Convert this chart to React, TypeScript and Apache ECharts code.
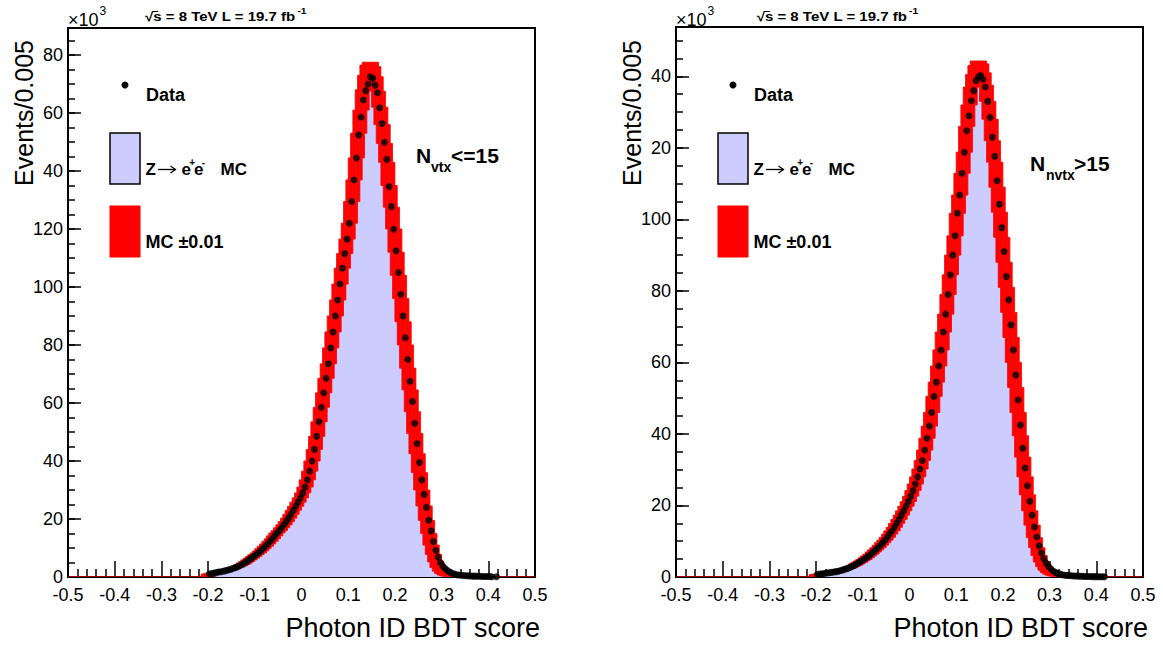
import React, { useEffect, useRef } from 'react';
import * as echarts from 'echarts';

const FONT = '"Liberation Sans", Arial, Helvetica, sans-serif';

// Histogram binning of the BDT score
const BIN_WIDTH = 0.005;
const X_MIN = -0.5;
const X_MAX = 0.5;
const N_BINS = 200;
const FILLED_FROM = -0.2; // low edge of the first listed bin
const BAND_HALF_BINS = 3; // half width of the MC shift envelope, in bins

// Events per bin (x10^3), bins of 0.005 starting at -0.2 — N_vtx <= 15
const LOW_NVTX_DATA = [
  1.0, 1.2, 1.4, 1.5, 1.7, 1.8, 2.0, 2.2, 2.4, 2.6,
  2.9, 3.2, 3.5, 3.9, 4.3, 4.8, 5.3, 5.9, 6.5, 7.1,
  7.7, 8.3, 9.0, 9.8, 10.6, 11.4, 12.3, 13.2, 14.2, 15.2,
  16.0, 17.0, 18.0, 19.1, 20.3, 21.6, 23.0, 24.4, 25.8, 27.3,
  29.0, 31.0, 33.5, 36.5, 40.0, 44.0, 48.5, 53.5, 58.5, 63.5,
  68.5, 73.5, 79.0, 84.5, 90.0, 95.5, 101.0, 106.5, 111.5, 116.5,
  122.0, 129.5, 136.9, 144.5, 152.4, 158.5, 164.5, 167.7, 170.0, 172.5,
  172.0, 169.6, 167.0, 161.8, 156.4, 149.9, 144.0, 134.6, 127.7, 119.9,
  112.5, 105.0, 97.5, 90.0, 82.5, 75.0, 67.5, 60.5, 53.0, 46.0,
  39.5, 33.5, 28.5, 24.0, 19.6, 15.9, 12.2, 9.2, 6.9, 5.0,
  3.8, 2.9, 2.2, 1.7, 1.3, 1.0, 0.8, 0.7, 0.6, 0.5,
  0.45, 0.4, 0.35, 0.3, 0.3, 0.25, 0.25, 0.2, 0.2, 0.15,
  0.15, 0.1, null, 0.1, null,
];

const LOW_NVTX_MC = [
  1.0, 1.2, 1.4, 1.5, 1.7, 1.8, 2.0, 2.2, 2.4, 2.6,
  2.9, 3.2, 3.5, 3.9, 4.3, 4.8, 5.3, 5.9, 6.5, 7.1,
  7.7, 8.3, 9.0, 9.8, 10.6, 11.4, 12.3, 13.2, 14.2, 15.2,
  16.0, 17.0, 18.0, 19.1, 20.3, 21.6, 23.0, 24.4, 25.8, 27.3,
  29.0, 31.0, 33.5, 36.5, 40.0, 44.0, 48.5, 53.5, 58.5, 63.5,
  68.5, 73.5, 79.0, 84.5, 90.0, 95.5, 101.0, 106.5, 111.5, 116.5,
  122.0, 129.5, 136.9, 144.5, 153.0, 161.0, 168.0, 173.0, 176.5, 177.5,
  176.0, 172.5, 167.5, 162.0, 156.0, 149.5, 143.0, 135.0, 127.5, 120.0,
  112.0, 104.0, 96.0, 88.0, 80.0, 72.0, 64.5, 57.0, 49.5, 42.5,
  36.0, 30.0, 24.5, 19.5, 15.0, 11.0, 7.8, 5.2, 3.3, 2.0,
  1.2, 0.7, 0.4, 0.25, 0.15, 0.1, 0.05, 0, 0, 0,
  0, 0, 0, 0, 0, 0, 0, 0, 0, 0,
  0, 0, 0, 0, 0,
];

// Events per bin (x10^3) — N_nvtx > 15
const HIGH_NVTX_DATA = [
  0.7, 0.8, 0.9, 1.0, 1.1, 1.2, 1.3, 1.4, 1.5, 1.6,
  1.8, 2.0, 2.2, 2.4, 2.7, 3.0, 3.3, 3.7, 4.1, 4.5,
  4.9, 5.4, 5.9, 6.4, 7.0, 7.6, 8.2, 8.9, 9.6, 10.3,
  11.1, 12.0, 12.9, 13.9, 15.0, 16.1, 17.3, 18.5, 19.8, 21.1,
  22.6, 24.2, 26.0, 28.0, 30.2, 32.6, 35.5, 38.8, 42.2, 46.0,
  50.5, 54.5, 59.0, 63.5, 68.5, 73.5, 79.0, 84.5, 90.0, 95.4,
  101.7, 106.8, 112.9, 118.8, 124.8, 129.0, 133.2, 136.0, 138.8, 139.8,
  140.2, 139.2, 137.0, 133.0, 128.5, 123.0, 117.6, 110.8, 104.2, 97.7,
  91.0, 84.0, 77.5, 70.5, 63.5, 56.5, 49.5, 42.5, 36.0, 30.5,
  25.5, 21.2, 17.3, 14.0, 11.2, 8.7, 6.7, 5.1, 3.9, 3.0,
  2.3, 1.7, 1.3, 1.0, 0.8, 0.65, 0.5, 0.45, 0.4, 0.35,
  0.3, 0.27, 0.24, 0.2, 0.18, 0.16, 0.14, 0.12, 0.1, 0.1,
  0.08, 0.06, 0.05, 0.05, null,
];

const HIGH_NVTX_MC = [
  0.7, 0.8, 0.9, 1.0, 1.1, 1.2, 1.3, 1.4, 1.5, 1.6,
  1.8, 2.0, 2.2, 2.4, 2.7, 3.0, 3.3, 3.7, 4.1, 4.5,
  4.9, 5.4, 5.9, 6.4, 7.0, 7.6, 8.2, 8.9, 9.6, 10.3,
  11.1, 12.0, 12.9, 13.9, 15.0, 16.1, 17.3, 18.5, 19.8, 21.1,
  22.6, 24.2, 26.0, 28.0, 30.2, 32.6, 35.5, 38.8, 42.2, 46.0,
  50.5, 54.5, 59.0, 63.5, 68.5, 73.5, 79.0, 84.5, 90.0, 95.4,
  101.7, 106.8, 112.9, 118.8, 126.0, 132.0, 137.0, 140.5, 143.0, 144.3,
  143.5, 141.0, 137.5, 133.0, 128.0, 122.0, 116.0, 109.0, 102.0, 95.0,
  88.0, 81.0, 74.0, 67.0, 60.0, 53.0, 46.0, 39.5, 33.5, 28.0,
  23.0, 18.5, 14.5, 11.0, 8.2, 6.0, 4.2, 2.9, 1.9, 1.2,
  0.8, 0.5, 0.3, 0.2, 0.1, 0.05, 0, 0, 0, 0,
  0, 0, 0, 0, 0, 0, 0, 0, 0, 0,
  0, 0, 0, 0, 0,
];

// Vertical axis: tick values every 20 and the texts written at them
const LOW_Y_MAX = 189.3;
const LOW_Y_LABELS = ['0', '20', '40', '60', '80', '100', '120', '40', '60', '80'];
const HIGH_Y_MAX = 153.8;
const HIGH_Y_LABELS = ['0', '20', '40', '60', '80', '100', '20', '40'];

const GRIDS = [
  { left: 68, top: 28, width: 467, height: 549 },
  { left: 676, top: 27, width: 467, height: 550 },
];

function fullHistogram(values: (number | null)[]): number[] {
  const out = new Array(N_BINS).fill(0);
  const offset = Math.round((FILLED_FROM - X_MIN) / BIN_WIDTH);
  values.forEach((v, k) => {
    if (v != null) out[offset + k] = v;
  });
  return out;
}

function panelSeries(panel: number, data: (number | null)[], mc: number[]) {
  const mcFull = fullHistogram(mc);
  const step: number[][] = [];
  const band: number[][] = [];
  for (let i = 0; i < N_BINS; i++) {
    const lo = X_MIN + i * BIN_WIDTH;
    const hi = lo + BIN_WIDTH;
    step.push([lo, mcFull[i]], [hi, mcFull[i]]);
    let mn = Infinity;
    let mx = -Infinity;
    for (let j = i - BAND_HALF_BINS; j <= i + BAND_HALF_BINS; j++) {
      const v = j >= 0 && j < N_BINS ? mcFull[j] : 0;
      mn = Math.min(mn, v);
      mx = Math.max(mx, v);
    }
    band.push([lo, hi, mn, mx]);
  }
  const points = data
    .map((v, k) => (v == null ? null : [FILLED_FROM + (k + 0.5) * BIN_WIDTH, v]))
    .filter((p) => p !== null);

  return [
    {
      type: 'line',
      xAxisIndex: panel,
      yAxisIndex: panel,
      data: step,
      symbol: 'none',
      silent: true,
      lineStyle: { width: 0, color: '#ccccff' },
      areaStyle: { color: '#ccccff', opacity: 1 },
      z: 1,
    },
    {
      type: 'custom',
      xAxisIndex: panel,
      yAxisIndex: panel,
      data: band,
      encode: { x: [0, 1], y: [2, 3] },
      silent: true,
      clip: true,
      z: 2,
      renderItem: (_params: any, api: any) => {
        const a = api.coord([api.value(0), api.value(3)]);
        const b = api.coord([api.value(1), api.value(2)]);
        return {
          type: 'rect',
          shape: { x: a[0], y: a[1], width: b[0] - a[0], height: Math.max(b[1] - a[1], 0) },
          style: { fill: '#ff0000', stroke: '#ff0000', lineWidth: 0.8 },
        };
      },
    },
    {
      type: 'scatter',
      xAxisIndex: panel,
      yAxisIndex: panel,
      data: points,
      symbol: 'circle',
      symbolSize: 7,
      itemStyle: { color: '#000' },
      silent: true,
      z: 3,
    },
  ];
}

function xAxisFor(gridIndex: number, visible: boolean) {
  return {
    type: 'value',
    gridIndex,
    show: visible,
    min: X_MIN,
    max: X_MAX,
    interval: 0.1,
    axisLine: { show: true, onZero: false, lineStyle: { color: '#000', width: 2 } },
    axisTick: { show: true, inside: true, length: 16, lineStyle: { color: '#000', width: 1.5 } },
    minorTick: { show: true, splitNumber: 5, length: 8, lineStyle: { color: '#000', width: 1.5 } },
    axisLabel: { color: '#000', fontSize: 18, fontFamily: FONT, margin: 9 },
    splitLine: { show: false },
    minorSplitLine: { show: false },
  };
}

function yAxisMain(gridIndex: number, max: number, labels: string[]) {
  return {
    type: 'value',
    gridIndex,
    position: 'left',
    min: 0,
    max,
    interval: 20,
    axisLine: { show: true, onZero: false, lineStyle: { color: '#000', width: 2 } },
    axisTick: { show: true, inside: true, length: 13, lineStyle: { color: '#000', width: 1.5 } },
    axisLabel: {
      color: '#000',
      fontSize: 18,
      fontFamily: FONT,
      margin: 5,
      formatter: (v: number) => {
        const k = Math.round(v / 20);
        return Math.abs(v - k * 20) < 1e-6 ? labels[k] ?? '' : '';
      },
    },
    splitLine: { show: false },
  };
}

function yAxisMinor(gridIndex: number, max: number) {
  return {
    type: 'value',
    gridIndex,
    position: 'left',
    min: 0,
    max,
    interval: 5,
    axisLine: { show: false, onZero: false },
    axisTick: { show: true, inside: true, length: 7, lineStyle: { color: '#000', width: 1.5 } },
    axisLabel: { show: false },
    splitLine: { show: false },
  };
}

function text(x: number, y: number, str: string, font: string, align = 'left') {
  return {
    type: 'text',
    x,
    y,
    silent: true,
    style: { text: str, font, fill: '#000', textAlign: align, textVerticalAlign: 'middle' },
  };
}

function panelDecor(dx: number, topDx: number, nLabel: { main: string; sub: string; rest: string; x: number; y: number; subX: number; restX: number }) {
  const b = (s: number) => `bold ${s}px ${FONT}`;
  const r = (s: number) => `${s}px ${FONT}`;
  return [
    // y-axis multiplier
    text(68 + dx, 20, '×10', r(18)),
    text(99.5 + dx, 11, '3', r(12)),
    // energy and luminosity line
    {
      type: 'group',
      x: 145 + topDx,
      y: 0,
      scaleX: 1.2,
      children: [
        text(0, 17, '√s = 8 TeV L = 19.7 fb', b(12.5)),
        text(127, 11, '-1', b(8.5)),
        { type: 'line', silent: true, shape: { x1: 6, y1: 11.5, x2: 11, y2: 11.5 }, style: { stroke: '#000', lineWidth: 1 } },
      ],
    },
    // legend
    { type: 'circle', silent: true, shape: { cx: 125 + dx, cy: 85, r: 3.5 }, style: { fill: '#000' } },
    text(146 + dx, 95, 'Data', b(18)),
    { type: 'rect', silent: true, shape: { x: 110 + dx, y: 133, width: 30, height: 51 }, style: { fill: '#ccccff', stroke: '#000', lineWidth: 1.5 } },
    text(145.5 + dx, 169.5, 'Z', b(17)),
    { type: 'line', silent: true, shape: { x1: 158 + dx, y1: 169.5, x2: 175 + dx, y2: 169.5 }, style: { stroke: '#000', lineWidth: 1.3 } },
    {
      type: 'polyline',
      silent: true,
      shape: { points: [[170.5 + dx, 166], [175.5 + dx, 169.5], [170.5 + dx, 173]] },
      style: { stroke: '#000', lineWidth: 1.3, fill: 'none' },
    },
    text(181.5 + dx, 169.5, 'e', b(17)),
    text(189.3 + dx, 162, '+', b(10)),
    text(194 + dx, 169.5, 'e', b(17)),
    text(201.7 + dx, 162, '-', b(10)),
    text(220.5 + dx, 169.5, 'MC', b(17)),
    { type: 'rect', silent: true, shape: { x: 109.5 + dx, y: 205.5, width: 31, height: 52 }, style: { fill: '#ff0000' } },
    text(145.5 + dx, 241.7, 'MC ±0.01', b(18)),
    // pile-up category
    text(nLabel.x, nLabel.y, nLabel.main, b(21)),
    text(nLabel.subX, nLabel.y + 12, nLabel.sub, b(14)),
    text(nLabel.restX, nLabel.y, nLabel.rest, b(21)),
    // axis titles
    {
      type: 'text',
      x: 24 + dx,
      y: 40,
      rotation: Math.PI / 2,
      silent: true,
      style: { text: 'Events/0.005', font: r(25), fill: '#000', textAlign: 'right', textVerticalAlign: 'middle' },
    },
    text(540 + dx, 628, 'Photon ID BDT score', r(27), 'right'),
  ];
}

export default function App() {
  const ref = useRef<HTMLDivElement>(null);

  useEffect(() => {
    if (!ref.current) return;
    const chart = echarts.init(ref.current, undefined, { renderer: 'svg' });

    const gridStyle = { show: true, borderColor: '#000', borderWidth: 2, backgroundColor: 'transparent' };

    chart.setOption({
      animation: false,
      backgroundColor: '#fff',
      grid: [
        { ...GRIDS[0], ...gridStyle },
        { ...GRIDS[1], ...gridStyle },
        { ...GRIDS[0] },
        { ...GRIDS[1] },
      ],
      xAxis: [xAxisFor(0, true), xAxisFor(1, true), xAxisFor(2, false), xAxisFor(3, false)],
      yAxis: [
        yAxisMain(0, LOW_Y_MAX, LOW_Y_LABELS),
        yAxisMain(1, HIGH_Y_MAX, HIGH_Y_LABELS),
        yAxisMinor(2, LOW_Y_MAX),
        yAxisMinor(3, HIGH_Y_MAX),
      ],
      series: [
        ...panelSeries(0, LOW_NVTX_DATA, LOW_NVTX_MC),
        ...panelSeries(1, HIGH_NVTX_DATA, HIGH_NVTX_MC),
      ],
      graphic: [
        ...panelDecor(0, 0, { main: 'N', sub: 'vtx', rest: '<=15', x: 416, y: 155, subX: 431, restX: 451 }),
        ...panelDecor(608, 611.7, { main: 'N', sub: 'nvtx', rest: '>15', x: 1030, y: 163, subX: 1046, restX: 1074 }),
      ],
    });

    return () => chart.dispose();
  }, []);

  return (
    <div
      ref={ref}
      style={{ position: 'fixed', left: 0, top: 0, width: 1163, height: 645, background: '#fff' }}
    />
  );
}
